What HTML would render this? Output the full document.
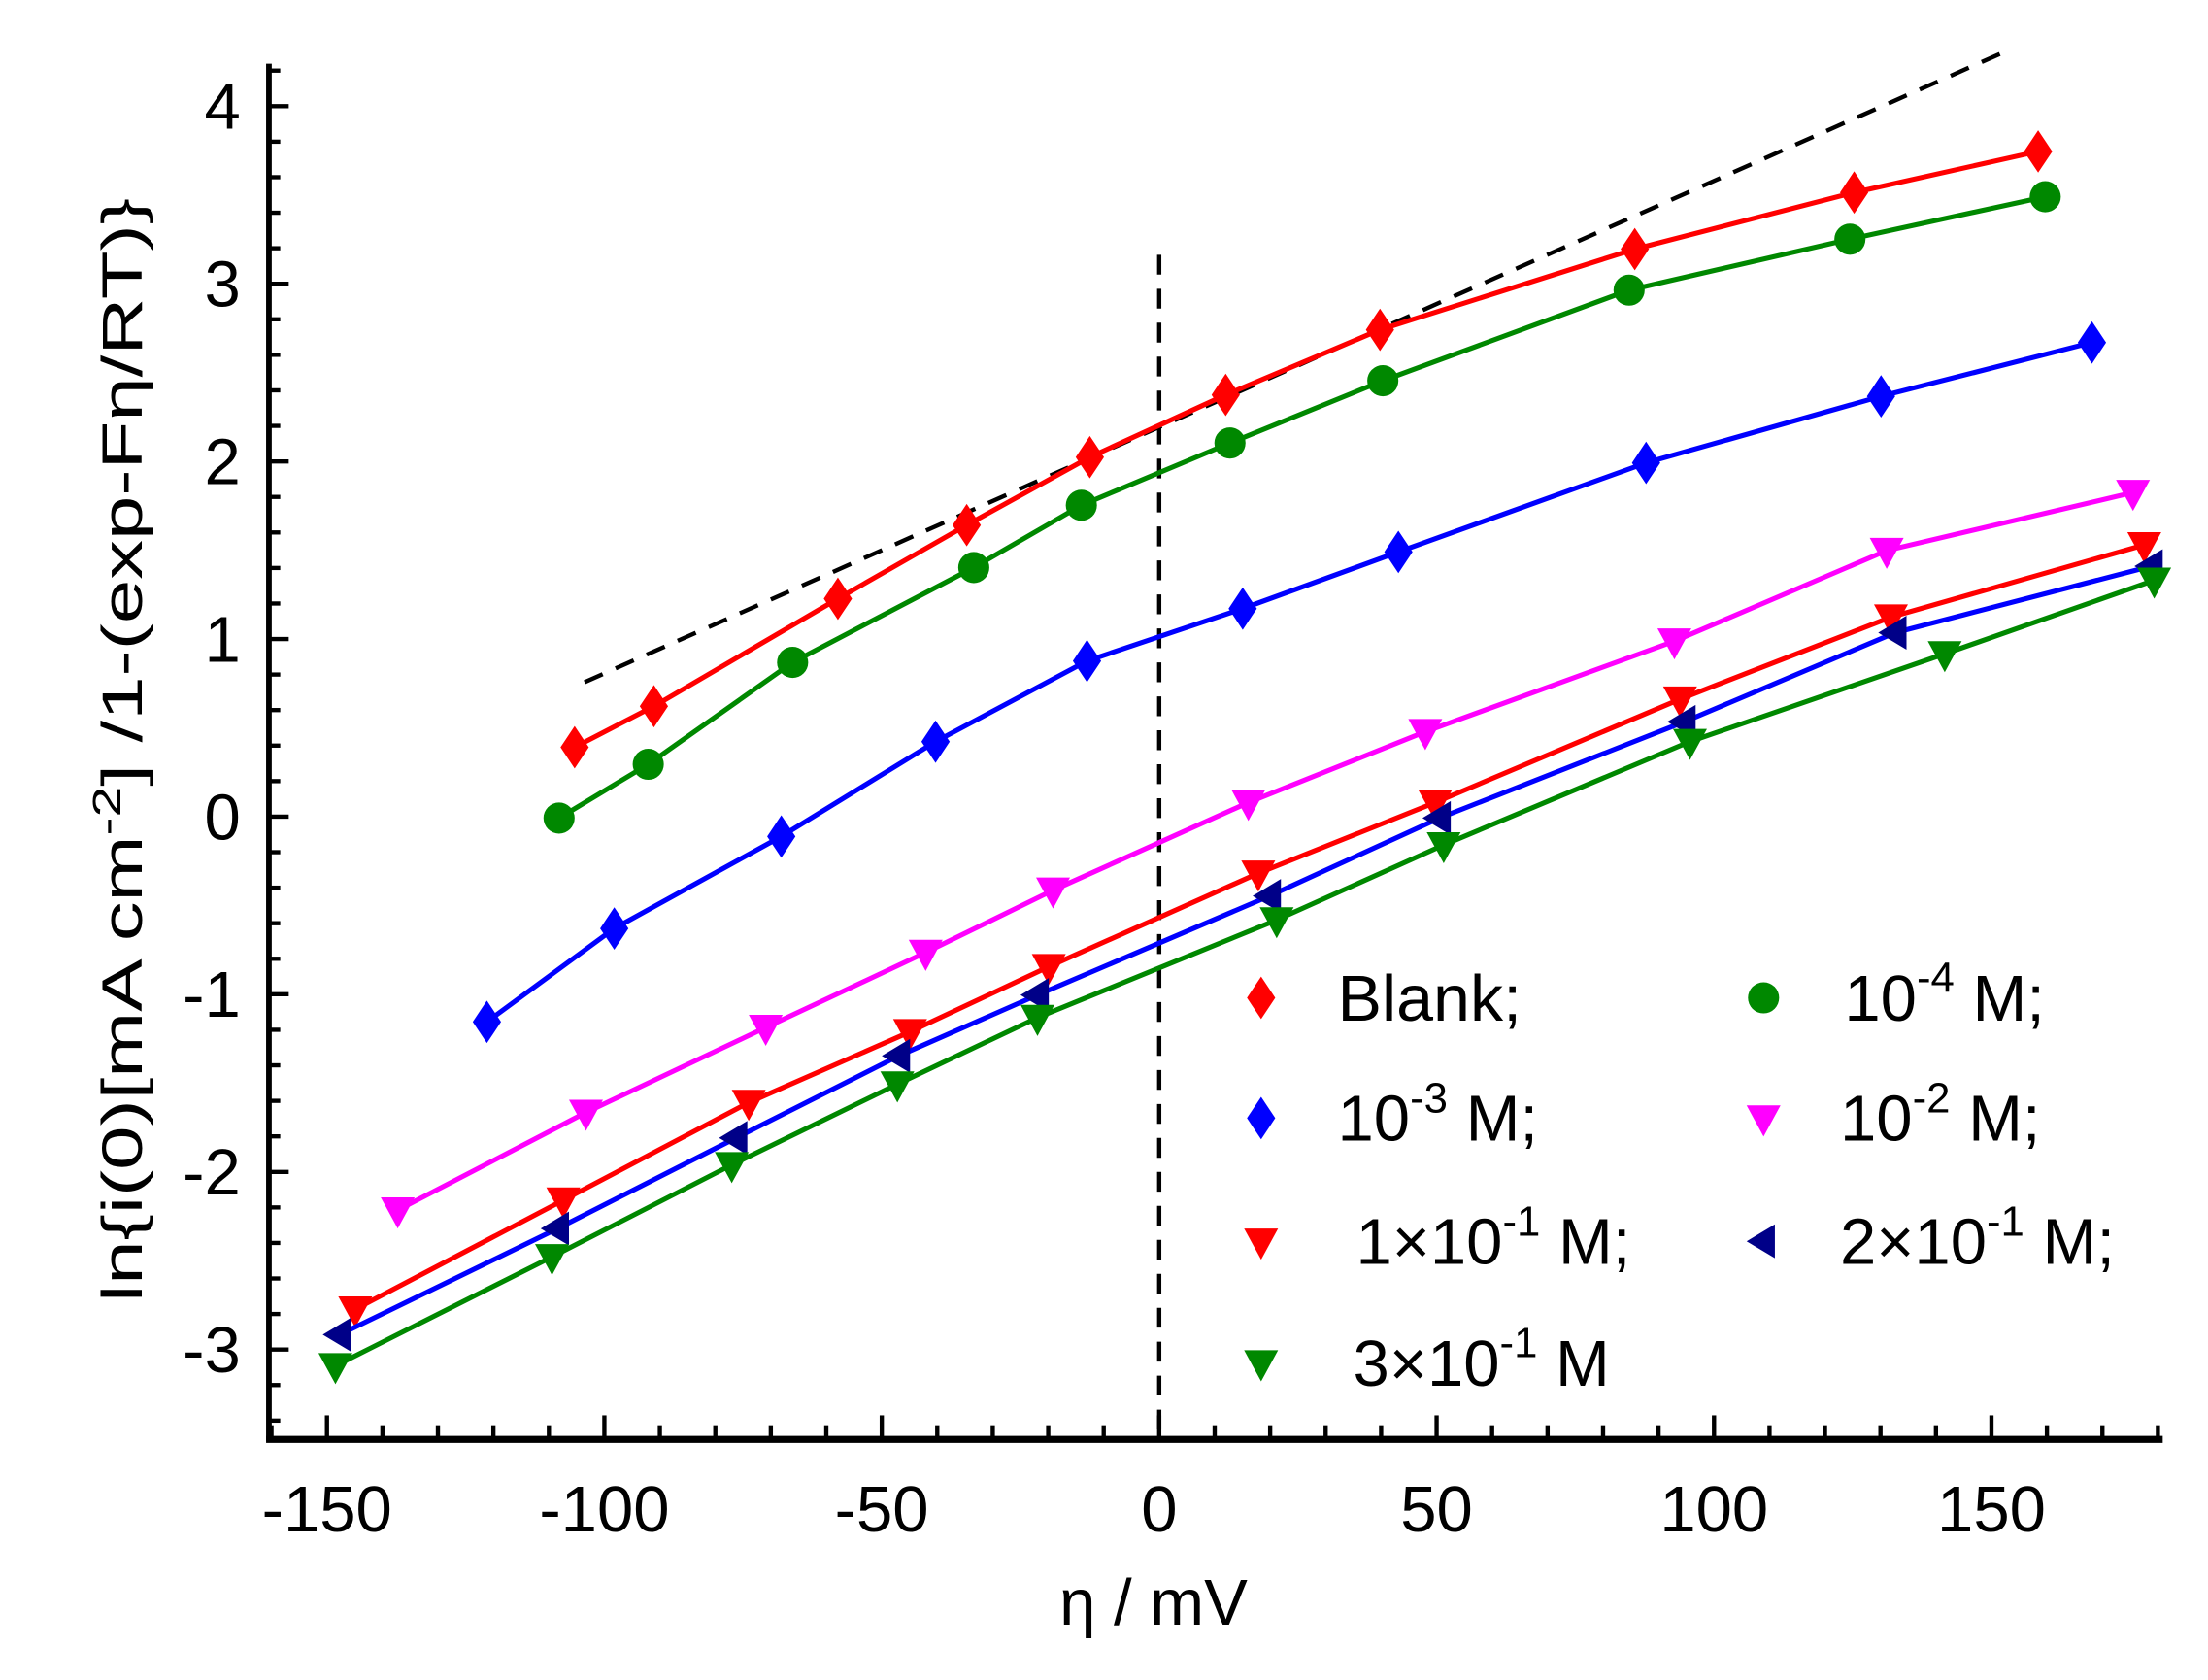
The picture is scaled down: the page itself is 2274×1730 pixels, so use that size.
<!DOCTYPE html>
<html><head><meta charset="utf-8"><style>
html,body{margin:0;padding:0;background:#fff;}
svg{display:block;}
text{font-family:"Liberation Sans",Arial,sans-serif;fill:#000;}
</style></head><body>
<svg width="2274" height="1730" viewBox="0 0 1560 1187" preserveAspectRatio="none" xmlns="http://www.w3.org/2000/svg">
<rect width="1560" height="1187" fill="#fff"/>
<defs>
<path id="dia" d="M0,-15 L10,0 L0,15 L-10,0Z"/>
<path id="tdn" d="M-12,-9 L12,-9 L0,13Z"/>
<path id="tl" d="M-12,0 L8,-12 L8,12Z"/>
</defs>
<g stroke="#000" fill="none">
<line x1="190" y1="45" x2="190" y2="1018" stroke-width="4"/>
<line x1="188" y1="1017" x2="1528" y2="1017" stroke-width="5"/>
</g>
<g stroke="#000" stroke-width="3" id="ticks"></g>
<g font-size="46" text-anchor="end" id="ylab"></g>
<g font-size="46" text-anchor="middle" id="xlab"></g>
<text x="815" y="1148" font-size="46" text-anchor="middle">η / mV</text>
<text transform="translate(100,530) rotate(-90)" font-size="40" text-anchor="middle" textLength="780" lengthAdjust="spacingAndGlyphs">ln{i(0)[mA cm<tspan dy="-15" font-size="28">-2</tspan><tspan dy="15">] /1-(exp-Fη/RT)}</tspan></text>
<line x1="413" y1="482" x2="1420" y2="35" stroke="#000" stroke-width="3" stroke-dasharray="14,10"/>
<line x1="819" y1="180" x2="819" y2="1017" stroke="#000" stroke-width="3" stroke-dasharray="14,10"/>
<g id="series"></g>
<g font-size="46">
<use href="#dia" x="891" y="705" fill="#f00"/><text x="945" y="721" textLength="130" lengthAdjust="spacingAndGlyphs">Blank;</text>
<circle cx="1246" cy="705" r="11" fill="#080"/><text x="1303" y="721">10<tspan dy="-20" font-size="30">-4</tspan><tspan dy="20"> M;</tspan></text>
<use href="#dia" x="891" y="790" fill="#00f"/><text x="945" y="806">10<tspan dy="-20" font-size="30">-3</tspan><tspan dy="20"> M;</tspan></text>
<use href="#tdn" x="1246" y="790" fill="#f0f"/><text x="1300" y="806">10<tspan dy="-20" font-size="30">-2</tspan><tspan dy="20"> M;</tspan></text>
<use href="#tdn" x="891" y="877" fill="#f00"/><text x="958" y="893">1×10<tspan dy="-20" font-size="30">-1</tspan><tspan dy="20"> M;</tspan></text>
<use href="#tl" x="1246" y="877" fill="#008"/><text x="1300" y="893">2×10<tspan dy="-20" font-size="30">-1</tspan><tspan dy="20"> M;</tspan></text>
<use href="#tdn" x="891" y="963" fill="#080"/><text x="956" y="979">3×10<tspan dy="-20" font-size="30">-1</tspan><tspan dy="20"> M</tspan></text>
</g>
<script>
const NS="http://www.w3.org/2000/svg";
function el(t,a,p){const e=document.createElementNS(NS,t);for(const k in a)e.setAttribute(k,a[k]);p.appendChild(e);return e;}
const tk=document.getElementById('ticks'),yl=document.getElementById('ylab'),xl=document.getElementById('xlab');
const X=v=>819+v*196/50, Y=v=>577-v*125.5;
for(let v=-160;v<=180;v+=10){const x=X(v);const maj=v%50==0;el('line',{x1:x,y1:1017,x2:x,y2:maj?1000:1007},tk);
 if(maj&&v>=-150){const t=el('text',{x:x,y:1082},xl);t.textContent=v;}}
for(let i=-17;i<=21;i++){const v=i/5;const y=Y(v);if(y<45||y>1015)continue;const maj=i%5==0;el('line',{x1:190,y1:y,x2:maj?204:198,y2:y},tk);
 if(maj){const t=el('text',{x:170,y:y+16},yl);t.textContent=v;}}
const S=[
["#f00","dia",[[406,528],[462,499],[592,423],[683,371],[770,323],[866,279],[975,233],[1155,176],[1310,136],[1440,107]]],
["#080","c",[[395,578],[458,540],[560,468],[688,401],[764,357],[869,313],[977,269],[1151,205],[1307,169],[1445,139]]],
["#00f","dia",[[344,722],[434,656],[552,591],[661,524],[768,467],[878,430],[988,390],[1163,327],[1329,280],[1478,242]]],
["#f0f","tdn",[[281,855],[414,786],[541,726],[654,673],[744,629],[882,567],[1007,517],[1183,453],[1333,389],[1507,348]]],
["#f00","tdn",[[251,925],[398,848],[529,779],[643,729],[741,683],[889,617],[1014,567],[1187,494],[1336,436],[1515,385]]],
["#00f","tl",[[240,943],[394,868],[520,804],[635,746],[733,703],[897,633],[1017,578],[1190,510],[1339,447],[1520,400]]],
["#080","tdn",[[237,965],[390,888],[517,823],[634,766],[733,719],[902,650],[1020,597],[1194,524],[1374,462],[1522,410]]]];
const g=document.getElementById('series');
S.forEach(([c,m,p],i)=>{el('polyline',{points:p.map(q=>q.join(',')).join(' '),fill:'none',stroke:c,'stroke-width':3.5,'stroke-linejoin':'round'},g);
 const mc=(i==5)?'#008':c;
 p.forEach(([x,y])=>{if(m=='c')el('circle',{cx:x,cy:y,r:11,fill:mc},g);else el('use',{href:'#'+m,x:x,y:y,fill:mc},g);});});
</script>
</svg>
</body></html>
